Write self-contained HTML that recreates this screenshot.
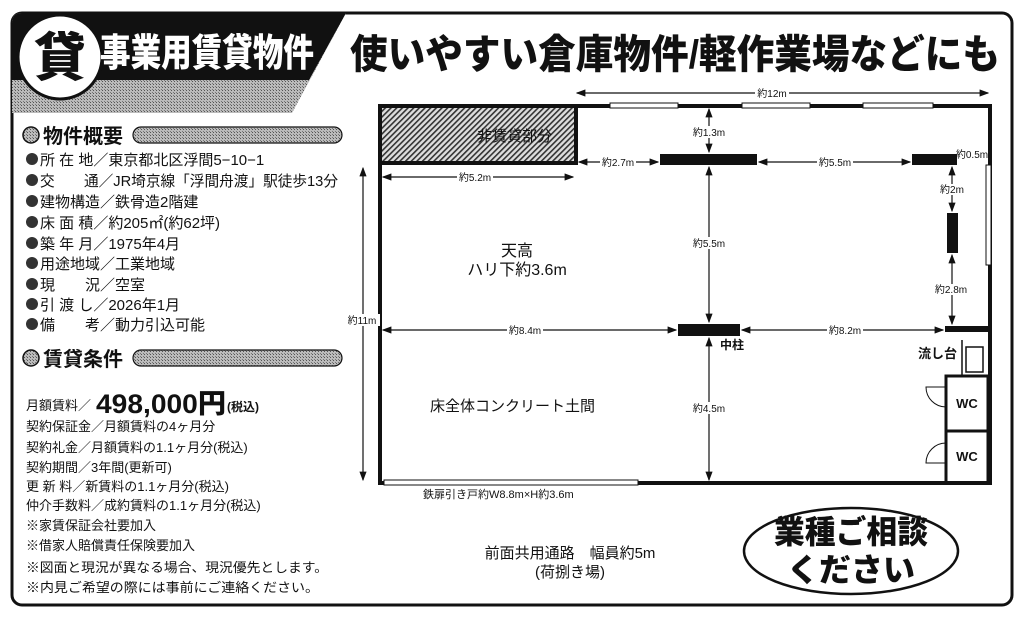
<!DOCTYPE html>
<html><head><meta charset="utf-8"><style>
html,body{margin:0;padding:0;background:#fff;}
svg{display:block;}
text{font-family:"Liberation Sans","Noto Sans CJK JP",sans-serif;fill:#111;}
.b{font-weight:bold;}
</style></head><body>
<svg width="1023" height="624" viewBox="0 0 1023 624" xmlns="http://www.w3.org/2000/svg">
<defs>
<pattern id="g" width="3" height="3" patternUnits="userSpaceOnUse"><rect width="3" height="3" fill="#bbb"/><rect width="1" height="1" fill="#555"/><rect x="2" y="2" width="1" height="1" fill="#777"/></pattern>
<pattern id="h" width="4" height="4" patternUnits="userSpaceOnUse" patternTransform="rotate(45)"><rect width="4" height="4" fill="#ddd"/><rect width="1.6" height="4" fill="#333"/></pattern>
<marker id="a" markerWidth="8" markerHeight="6" refX="7" refY="3" orient="auto-start-reverse"><path d="M0,0 L8,3 L0,6 z" fill="#111"/></marker>
</defs>
<rect x="12" y="13" width="1000" height="592" rx="10" fill="none" stroke="#111" stroke-width="3"/>
<path d="M12,23 Q12,13 22,13 L346,13 L292,113 L12,113 Z" fill="url(#g)"/>
<path d="M12,23 Q12,13 22,13 L346,13 L309,80 L12,80 Z" fill="#111"/>
<circle cx="60" cy="57" r="42" fill="#fff" stroke="#111" stroke-width="3"/>
<text x="60" y="76" font-size="52" class="b" text-anchor="middle" style="font-weight:900">貸</text>
<text x="100" y="66" font-size="38" class="b" textLength="214" lengthAdjust="spacingAndGlyphs" style="fill:#fff;font-weight:900">事業用賃貸物件</text>
<text x="350" y="68" font-size="40" class="b" textLength="650" lengthAdjust="spacingAndGlyphs" style="font-weight:900">使いやすい倉庫物件/軽作業場などにも</text>
<circle cx="31" cy="135" r="8" fill="url(#g)" stroke="#111" stroke-width="1.5"/>
<text x="43" y="143" font-size="20" class="b">物件概要</text>
<rect x="133" y="127" width="209" height="16" rx="8" fill="url(#g)" stroke="#111" stroke-width="1.2"/>
<g font-size="15">
<g fill="#333"><circle cx="32" cy="159" r="6"/><circle cx="32" cy="180" r="6"/><circle cx="32" cy="201" r="6"/><circle cx="32" cy="222" r="6"/><circle cx="32" cy="243" r="6"/><circle cx="32" cy="263" r="6"/><circle cx="32" cy="284" r="6"/><circle cx="32" cy="304" r="6"/><circle cx="32" cy="324" r="6"/></g>
<text x="40" y="165">所 在 地／東京都北区浮間5−10−1</text>
<text x="40" y="186" textLength="298" lengthAdjust="spacingAndGlyphs">交　　通／JR埼京線「浮間舟渡」駅徒歩13分</text>
<text x="40" y="207">建物構造／鉄骨造2階建</text>
<text x="40" y="228">床 面 積／約205㎡(約62坪)</text>
<text x="40" y="249">築 年 月／1975年4月</text>
<text x="40" y="269">用途地域／工業地域</text>
<text x="40" y="290">現　　況／空室</text>
<text x="40" y="310">引 渡 し／2026年1月</text>
<text x="40" y="330">備　　考／動力引込可能</text>
</g>
<circle cx="31" cy="358" r="8" fill="url(#g)" stroke="#111" stroke-width="1.5"/>
<text x="43" y="366" font-size="20" class="b">賃貸条件</text>
<rect x="133" y="350" width="209" height="16" rx="8" fill="url(#g)" stroke="#111" stroke-width="1.2"/>
<g font-size="13">
<text x="26" y="410">月額賃料／</text>
<text x="96" y="413" font-size="27" class="b" textLength="130" lengthAdjust="spacingAndGlyphs" style="font-weight:900">498,000円</text>
<text x="227" y="411" font-size="12" class="b">(税込)</text>
<text x="26" y="431">契約保証金／月額賃料の4ヶ月分</text>
<text x="26" y="452">契約礼金／月額賃料の1.1ヶ月分(税込)</text>
<text x="26" y="472">契約期間／3年間(更新可)</text>
<text x="26" y="491">更 新 料／新賃料の1.1ヶ月分(税込)</text>
<text x="26" y="510">仲介手数料／成約賃料の1.1ヶ月分(税込)</text>
<text x="26" y="530">※家賃保証会社要加入</text>
<text x="26" y="550">※借家人賠償責任保険要加入</text>
<text x="26" y="572" textLength="302" lengthAdjust="spacingAndGlyphs">※図面と現況が異なる場合、現況優先とします。</text>
<text x="26" y="592" textLength="293" lengthAdjust="spacingAndGlyphs">※内見ご希望の際には事前にご連絡ください。</text>
</g>
<g stroke="#111" fill="none">
<rect x="380" y="106" width="610" height="377" stroke-width="4"/>
<g fill="#fff" stroke-width="1"><rect x="610" y="103" width="68" height="5"/><rect x="742" y="103" width="68" height="5"/><rect x="863" y="103" width="70" height="5"/></g>
<rect x="380" y="106" width="196" height="57" fill="url(#h)" stroke-width="4"/>
<rect x="384" y="480" width="254" height="5" fill="#fff" stroke-width="1"/>
<rect x="986" y="165" width="5" height="100" fill="#fff" stroke-width="1"/>
</g>
<text x="477" y="141" font-size="15">非賃貸部分</text>
<g fill="#111">
<rect x="660" y="154" width="97" height="11"/>
<rect x="912" y="154" width="45" height="11"/>
<rect x="947" y="213" width="11" height="40"/>
<rect x="678" y="324" width="62" height="12"/>
<rect x="945" y="326" width="45" height="6"/>
</g>
<g stroke="#111" stroke-width="1.2" marker-start="url(#a)" marker-end="url(#a)">
<line x1="577" y1="93" x2="988" y2="93"/>
<line x1="709" y1="109" x2="709" y2="152"/>
<line x1="579" y1="162" x2="658" y2="162"/>
<line x1="759" y1="162" x2="910" y2="162"/>
<line x1="383" y1="177" x2="573" y2="177"/>
<line x1="709" y1="167" x2="709" y2="322"/>
<line x1="952" y1="167" x2="952" y2="211"/>
<line x1="952" y1="255" x2="952" y2="324"/>
<line x1="383" y1="330" x2="676" y2="330"/>
<line x1="742" y1="330" x2="943" y2="330"/>
<line x1="709" y1="338" x2="709" y2="480"/>
<line x1="363" y1="168" x2="363" y2="480"/>
</g>
<g font-size="10" text-anchor="middle">
<rect x="755" y="88" width="34" height="10" fill="#fff"/><text x="772" y="97">約12m</text>
<rect x="690" y="126" width="38" height="12" fill="#fff"/><text x="709" y="136">約1.3m</text>
<rect x="600" y="157" width="36" height="11" fill="#fff"/><text x="618" y="166">約2.7m</text>
<rect x="817" y="157" width="36" height="11" fill="#fff"/><text x="835" y="166">約5.5m</text>
<text x="972" y="158">約0.5m</text>
<rect x="457" y="172" width="36" height="11" fill="#fff"/><text x="475" y="181">約5.2m</text>
<rect x="690" y="237" width="38" height="12" fill="#fff"/><text x="709" y="247">約5.5m</text>
<rect x="937" y="184" width="30" height="11" fill="#fff"/><text x="952" y="193">約2m</text>
<rect x="932" y="284" width="38" height="11" fill="#fff"/><text x="951" y="293">約2.8m</text>
<rect x="507" y="325" width="36" height="11" fill="#fff"/><text x="525" y="334">約8.4m</text>
<rect x="827" y="325" width="36" height="11" fill="#fff"/><text x="845" y="334">約8.2m</text>
<rect x="690" y="402" width="38" height="12" fill="#fff"/><text x="709" y="412">約4.5m</text>
<rect x="346" y="314" width="34" height="12" fill="#fff"/><text x="362" y="324">約11m</text>
</g>
<text x="720" y="349" font-size="12" class="b">中柱</text>
<text x="517" y="256" font-size="16" text-anchor="middle">天高</text>
<text x="517" y="275" font-size="16" text-anchor="middle">ハリ下約3.6m</text>
<text x="430" y="411" font-size="15">床全体コンクリート土間</text>
<g stroke="#111" fill="none" stroke-width="1.5">
<rect x="966" y="347" width="17" height="25"/>
<line x1="962" y1="340" x2="962" y2="375"/>
<rect x="946" y="376" width="42" height="55" stroke-width="3"/>
<rect x="946" y="431" width="42" height="52" stroke-width="3"/>
<path d="M946,387 L926,387 A20,20 0 0 0 946,407" stroke-width="1"/>
<path d="M946,443 A20,20 0 0 0 926,463 L946,463" stroke-width="1"/>
</g>
<text x="918" y="358" font-size="13" class="b">流し台</text>
<text x="967" y="408" font-size="13" class="b" text-anchor="middle">WC</text>
<text x="967" y="461" font-size="13" class="b" text-anchor="middle">WC</text>
<text x="423" y="498" font-size="11">鉄扉引き戸約W8.8m×H約3.6m</text>
<text x="570" y="558" font-size="15" text-anchor="middle">前面共用通路　幅員約5m</text>
<text x="570" y="577" font-size="15" text-anchor="middle">(荷捌き場)</text>
<ellipse cx="851" cy="551" rx="107" ry="43" fill="#fff" stroke="#111" stroke-width="2.5"/>
<text x="851" y="543" font-size="32" class="b" text-anchor="middle" textLength="154" lengthAdjust="spacingAndGlyphs" style="font-weight:900">業種ご相談</text>
<text x="851" y="581" font-size="32" class="b" text-anchor="middle" textLength="128" lengthAdjust="spacingAndGlyphs" style="font-weight:900">ください</text>
</svg>
</body></html>
